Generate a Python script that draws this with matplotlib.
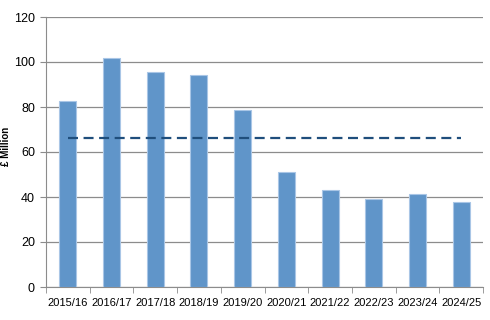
import numpy as np
from matplotlib import pyplot as plt

# categories and values
years = ["2015/16", "2016/17", "2017/18", "2018/19", "2019/20",
         "2020/21", "2021/22", "2022/23", "2023/24", "2024/25"]
spend = [82.7, 101.8, 95.7, 94.4, 78.7, 51.1, 43.0, 39.3, 41.3, 37.6]
average = [66.4] * len(years)

plt.rcParams['font.family'] = ['Liberation Sans', 'DejaVu Sans']

fig = plt.figure(figsize=(4.9, 3.2), dpi=100)
ax = fig.add_axes([46/490, 1 - 287/320, 437/490, 270/320])

x = np.arange(len(years))
ax.bar(x, spend, width=0.39, color='#6095c9', edgecolor='#a9c6e6',
       linewidth=0.8, zorder=3)
ax.plot(x, average, color='#1f4e7c', linestyle=(0, (4.5, 2.5)),
        linewidth=1.6, zorder=4)

ax.set_xlim(-0.5, len(years) - 0.5)
ax.set_ylim(0, 120)
ax.set_yticks(range(0, 121, 20))
ax.yaxis.grid(True, color='#8c8c8c', linewidth=0.9, zorder=0)

ax.set_xticks(x)
ax.set_xticklabels(years, fontsize=8)
ax.set_xticks(np.arange(-0.5, len(years)), minor=True)
ax.tick_params(axis='x', which='major', length=0, pad=8)
ax.tick_params(axis='x', which='minor', length=4, color='#8c8c8c')
ax.tick_params(axis='y', labelsize=9, length=4, color='#8c8c8c', pad=4)

for side in ['top', 'right']:
    ax.spines[side].set_visible(False)
ax.spines['left'].set_color('#8c8c8c')
ax.spines['bottom'].set_color('#8c8c8c')

ax.set_ylabel('£ Million', fontsize=7, fontweight='bold')
ax.yaxis.set_label_coords(-0.079, 0.52)

fig.savefig('out.png', dpi=100)
